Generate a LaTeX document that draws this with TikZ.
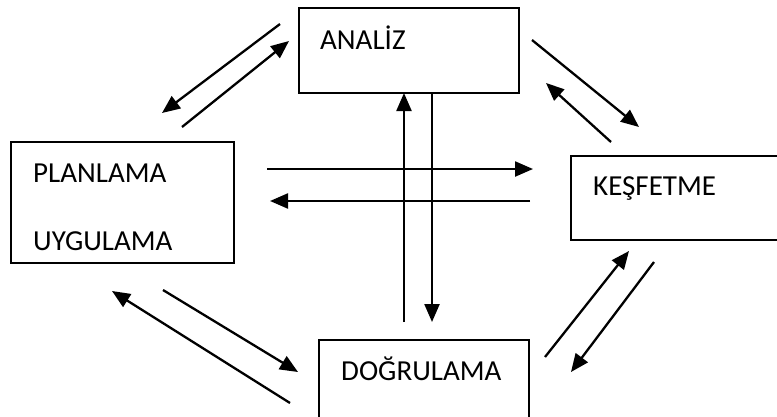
\documentclass[tikz,border=0pt]{standalone}
\usepackage{fontspec}
\setmainfont{Carlito}
\usetikzlibrary{arrows.meta}
\tikzset{
  boxframe/.style={draw=black, line width=1.9pt, inner sep=0pt, outer sep=0pt},
  lbl/.style={anchor=base west, inner sep=0pt, font=\fontsize{29}{34}\selectfont},
  conn/.style={line width=2.3pt, -{Triangle[length=18pt,width=15pt]}}
}
\begin{document}
\begin{tikzpicture}[x=1pt,y=-1pt]
\useasboundingbox (0,0) rectangle (777,416);
\clip (0,0) rectangle (777,416);
\fill[white] (0,0) rectangle (777,416);
% boxes
\node[boxframe, minimum width=220pt, minimum height=85pt] (boxA) at (409,50.5) {};
\node[boxframe, minimum width=223pt, minimum height=121pt] (boxP) at (122.5,202.5) {};
\node[boxframe, minimum width=249pt, minimum height=84pt] (boxK) at (695.5,198) {};
\node[boxframe, minimum width=210pt, minimum height=100pt] (boxD) at (424,390) {};
% labels
\node[lbl] (tA) at (320,49) {ANALİZ};
\node[lbl] (tP) at (33,182) {PLANLAMA};
\node[lbl] (tU) at (33,250) {UYGULAMA};
\node[lbl] (tK) at (593,195) {KEŞFETME};
\node[lbl] (tD) at (341,380) {DOĞRULAMA};
% arrow end points
\coordinate (a1s) at (280,24);  \coordinate (a1e) at (162,113);
\coordinate (a2s) at (182,127); \coordinate (a2e) at (289,41);
\coordinate (a3s) at (532,40);  \coordinate (a3e) at (639,127);
\coordinate (a4s) at (611,142); \coordinate (a4e) at (546,83);
\coordinate (a5s) at (267,169); \coordinate (a5e) at (533,169);
\coordinate (a6s) at (530,201); \coordinate (a6e) at (270,201);
\coordinate (a7s) at (432,93);  \coordinate (a7e) at (432,322);
\coordinate (a8s) at (404,322); \coordinate (a8e) at (404,93);
\coordinate (a9s) at (545,357); \coordinate (a9e) at (629,251);
\coordinate (a10s) at (654,262); \coordinate (a10e) at (571,372);
\coordinate (a11s) at (290,403); \coordinate (a11e) at (112,291);
\coordinate (a12s) at (163,290); \coordinate (a12e) at (298,372);
% arrows
\draw[conn] (a1s) -- (a1e);
\draw[conn] (a2s) -- (a2e);
\draw[conn] (a3s) -- (a3e);
\draw[conn] (a4s) -- (a4e);
\draw[conn] (a5s) -- (a5e);
\draw[conn] (a6s) -- (a6e);
\draw[conn] (a7s) -- (a7e);
\draw[conn] (a8s) -- (a8e);
\draw[conn] (a9s) -- (a9e);
\draw[conn] (a10s) -- (a10e);
\draw[conn] (a11s) -- (a11e);
\draw[conn] (a12s) -- (a12e);
\end{tikzpicture}
\end{document}
